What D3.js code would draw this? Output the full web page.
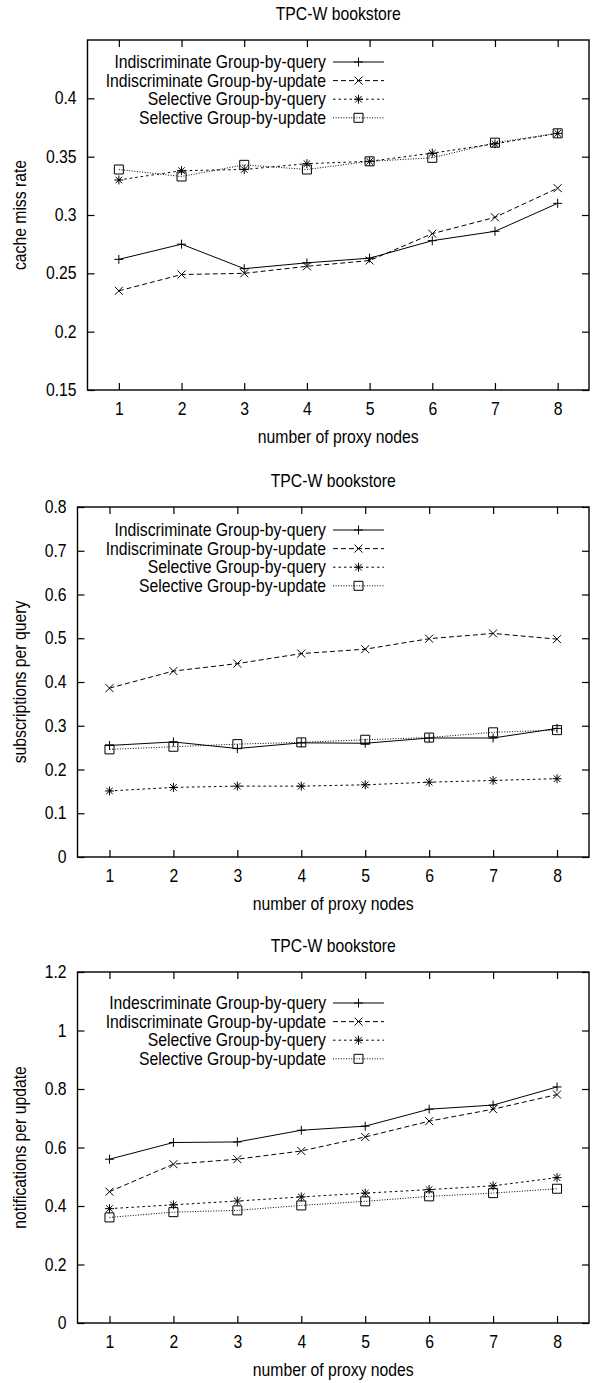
<!DOCTYPE html>
<html>
<head>
<meta charset="utf-8">
<script src="https://cdn.jsdelivr.net/npm/d3@7"></script>
<style>
  body { margin: 0; background: #fff; }
  svg { display: block; font-family: "Liberation Sans", Arial, sans-serif; }
</style>
</head>
<body>
<svg id="chart" width="598" height="1383"></svg>
<script>
// proxy nodes on the x axis
var nodes = [1, 2, 3, 4, 5, 6, 7, 8];

var seriesNames = ["Indiscriminate Group-by-query", "Indiscriminate Group-by-update",
                   "Selective Group-by-query", "Selective Group-by-update"];
// third panel has the typo in its legend
var seriesNames3 = ["Indescriminate Group-by-query", "Indiscriminate Group-by-update",
                    "Selective Group-by-query", "Selective Group-by-update"];

// panel 1: cache miss rate
var missIQ = [0.262, 0.275, 0.254, 0.259, 0.263, 0.278, 0.286, 0.310];
var missIU = [0.235, 0.249, 0.250, 0.256, 0.261, 0.284, 0.298, 0.323];
var missSQ = [0.330, 0.338, 0.339, 0.344, 0.346, 0.353, 0.361, 0.370];
var missSU = [0.339, 0.333, 0.343, 0.339, 0.346, 0.349, 0.362, 0.370];
var missTicks = [0.15, 0.2, 0.25, 0.3, 0.35, 0.4];

// panel 2: subscriptions per query
var subIQ = [0.255, 0.263, 0.248, 0.261, 0.260, 0.272, 0.272, 0.294];
var subIU = [0.386, 0.425, 0.442, 0.465, 0.475, 0.499, 0.511, 0.498];
var subSQ = [0.151, 0.159, 0.162, 0.162, 0.165, 0.171, 0.175, 0.179];
var subSU = [0.246, 0.252, 0.258, 0.262, 0.268, 0.273, 0.285, 0.290];
var subTicks = [0, 0.1, 0.2, 0.3, 0.4, 0.5, 0.6, 0.7, 0.8];

// panel 3: notifications per update
var notIQ = [0.560, 0.617, 0.619, 0.659, 0.673, 0.731, 0.745, 0.807];
var notIU = [0.449, 0.543, 0.560, 0.588, 0.636, 0.690, 0.731, 0.781];
var notSQ = [0.391, 0.404, 0.417, 0.431, 0.444, 0.456, 0.469, 0.497];
var notSU = [0.361, 0.379, 0.385, 0.402, 0.416, 0.433, 0.444, 0.459];
var notTicks = [0, 0.2, 0.4, 0.6, 0.8, 1, 1.2];

var svg = d3.select("#chart");
var FS = "17.5px";   // glyphs in the original are tall and a bit narrow
var SX = 0.9;

// line styles per series: solid, dashed, short dash, dotted
var dashes = [null, "5,3", "2.5,3", "1,1.6"];
var marks = ["plus", "cross", "star", "box"];

// squeeze a text horizontally around its own anchor point
function narrow(sel) {
    sel.each(function() {
        var t = d3.select(this);
        var x = +t.attr("x") || 0, y = +t.attr("y") || 0;
        t.attr("transform", "translate(" + x + "," + y + ") scale(" + SX + ",1) translate(" + (-x) + "," + (-y) + ")");
    });
}

function drawMark(g, kind, x, y) {
    var p = d3.path();
    if (kind == "plus" || kind == "star") {
        p.moveTo(x - 4.5, y); p.lineTo(x + 4.5, y);
        p.moveTo(x, y - 4.5); p.lineTo(x, y + 4.5);
    }
    if (kind == "cross" || kind == "star") {
        var r = kind == "star" ? 3.3 : 4;
        p.moveTo(x - r, y - r); p.lineTo(x + r, y + r);
        p.moveTo(x - r, y + r); p.lineTo(x + r, y - r);
    }
    if (kind == "box") {
        p.rect(x - 4.5, y - 4.5, 9, 9);
    }
    g.append("path")
        .attr("d", p.toString())
        .attr("fill", "none")
        .attr("stroke", "#000")
        .attr("stroke-width", 1);
}

function panel(cfg) {
    var x = d3.scaleLinear().domain([0.5, 8.5]).range([cfg.left, cfg.right]);
    var y = d3.scaleLinear().domain(cfg.ydomain).range([cfg.bottom, cfg.top]);
    var g = svg.append("g");
    var fmt = d3.format("~g");

    // title
    g.append("text")
        .attr("x", (cfg.left + cfg.right) / 2)
        .attr("y", cfg.top - 20)
        .attr("text-anchor", "middle")
        .attr("font-size", FS)
        .text("TPC-W bookstore")
        .call(narrow);

    // bottom axis with inward ticks, mirrored on top
    var xb = g.append("g")
        .attr("transform", "translate(0," + cfg.bottom + ")")
        .call(d3.axisBottom(x).tickValues(nodes).tickSizeInner(-7).tickSizeOuter(0).tickPadding(13));
    var xt = g.append("g")
        .attr("transform", "translate(0," + cfg.top + ")")
        .call(d3.axisTop(x).tickValues(nodes).tickSizeInner(-7).tickSizeOuter(0).tickFormat(""));

    var yl = g.append("g")
        .attr("transform", "translate(" + cfg.left + ",0)")
        .call(d3.axisLeft(y).tickValues(cfg.ticks).tickFormat(fmt).tickSizeInner(-7).tickSizeOuter(0).tickPadding(11));
    var yr = g.append("g")
        .attr("transform", "translate(" + cfg.right + ",0)")
        .call(d3.axisRight(y).tickValues(cfg.ticks).tickSizeInner(-7).tickSizeOuter(0).tickFormat(""));

    [xb, xt, yl, yr].forEach(function(a) {
        a.select(".domain").remove();
        a.selectAll("line").attr("stroke", "#000").attr("stroke-width", 1.2);
        a.selectAll("text")
            .attr("font-size", FS)
            .attr("font-family", "Liberation Sans, Arial, sans-serif")
            .attr("fill", "#000")
            .call(narrow);
    });

    // frame
    g.append("rect")
        .attr("x", cfg.left).attr("y", cfg.top)
        .attr("width", cfg.right - cfg.left)
        .attr("height", cfg.bottom - cfg.top)
        .attr("fill", "none")
        .attr("stroke", "#000")
        .attr("stroke-width", 1.4);

    // axis labels
    g.append("text")
        .attr("x", (cfg.left + cfg.right) / 2)
        .attr("y", cfg.bottom + 53)
        .attr("text-anchor", "middle")
        .attr("font-size", FS)
        .text("number of proxy nodes")
        .call(narrow);

    g.append("text")
        .attr("transform", "translate(20," + (cfg.top + cfg.bottom) / 2 + ") rotate(-90) scale(" + SX + ",1)")
        .attr("text-anchor", "middle")
        .attr("dy", "0.35em")
        .attr("font-size", FS)
        .text(cfg.ylabel);

    var line = d3.line()
        .x(function(d, i) { return x(nodes[i]); })
        .y(function(d) { return y(d); });

    cfg.series.forEach(function(vals, k) {
        g.append("path")
            .datum(vals)
            .attr("d", line)
            .attr("fill", "none")
            .attr("stroke", "#000")
            .attr("stroke-width", 1)
            .attr("stroke-dasharray", dashes[k]);
        vals.forEach(function(v, i) {
            drawMark(g, marks[k], x(nodes[i]), y(v));
        });

        // legend row
        var ly = cfg.legendTop + k * 18.6;
        g.append("text")
            .attr("x", 326)
            .attr("y", ly)
            .attr("dy", "0.35em")
            .attr("text-anchor", "end")
            .attr("font-size", FS)
            .text(cfg.names[k])
            .call(narrow);
        g.append("line")
            .attr("x1", 333).attr("x2", 384)
            .attr("y1", ly).attr("y2", ly)
            .attr("stroke", "#000")
            .attr("stroke-width", 1)
            .attr("stroke-dasharray", dashes[k]);
        drawMark(g, marks[k], 358.5, ly);
    });
}

panel({
    top: 40, bottom: 390, left: 87.5, right: 589,
    ydomain: [0.15, 0.45], ticks: missTicks,
    ylabel: "cache miss rate",
    legendTop: 62, names: seriesNames,
    series: [missIQ, missIU, missSQ, missSU]
});

panel({
    top: 507, bottom: 857, left: 77.5, right: 589,
    ydomain: [0, 0.8], ticks: subTicks,
    ylabel: "subscriptions per query",
    legendTop: 530, names: seriesNames,
    series: [subIQ, subIU, subSQ, subSU]
});

panel({
    top: 972, bottom: 1323, left: 77.5, right: 589,
    ydomain: [0, 1.2], ticks: notTicks,
    ylabel: "notifications per update",
    legendTop: 1003, names: seriesNames3,
    series: [notIQ, notIU, notSQ, notSU]
});
</script>
</body>
</html>
